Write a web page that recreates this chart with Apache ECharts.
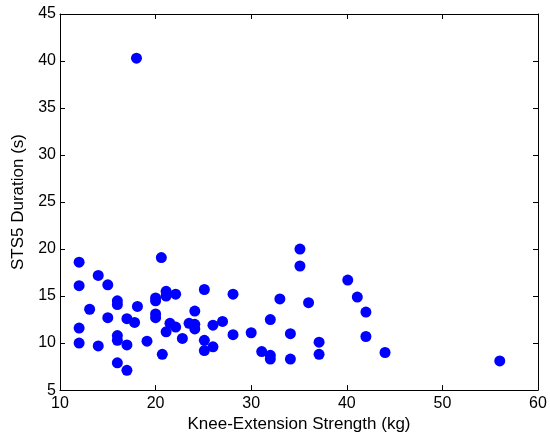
<!DOCTYPE html>
<html><head><meta charset="utf-8">
<script src="https://cdn.jsdelivr.net/npm/echarts@6/dist/echarts.min.js"></script>
<style>html,body{margin:0;padding:0;background:#fff}#c{width:550px;height:438px}</style>
</head><body><div id="c"></div>
<script>
const strengthKg = [18,12,12,12,12,13.1,14,14,15,15,16,16,16,16,16,17,17,17,17.8,18.1,19.1,20,20,20,20,20.6,20.7,21.1,21.1,21.1,21.5,22.1,22.1,22.8,23.5,24.1,24.1,24.1,25.1,25.1,25.1,26,26,27,28.1,28.1,30,31.1,32,32,32,33,34.1,34.1,35.1,35.1,36,37.1,37.1,40.1,41.1,42,42,44,56];
const sts5Seconds = [40.3,18.6,16.1,11.6,10,13.6,17.2,9.7,16.2,12.7,14.5,14.1,10.8,10.3,7.9,12.6,9.8,7.1,12.2,13.9,10.2,14.8,14.5,13.1,12.7,19.1,8.8,15.5,15,11.2,12.1,15.2,11.7,10.5,12.1,13.4,12,11.5,15.7,10.3,9.2,11.9,9.6,12.3,15.2,10.9,11.1,9.1,12.5,8.7,8.3,14.7,11,8.3,20,18.2,14.3,10.1,8.8,16.7,14.9,13.3,10.7,9,8.1];
const xTicks = [10,20,30,40,50,60];
const yTicks = [5,10,15,20,25,30,35,40,45];

const points = strengthKg.map((x,i)=>[x, sts5Seconds[i]]);
const font = 'Liberation Sans, Arial, Helvetica, sans-serif';
const lineStyle = {color:'#000', width:1};
const chart = echarts.init(document.getElementById('c'), null, {renderer:'canvas'});
chart.setOption({
  animation:false,
  backgroundColor:'#fff',
  grid:{left:60, right:12, top:14, bottom:46.5, containLabel:false},
  xAxis:[{
    type:'value', min:xTicks[0], max:xTicks[xTicks.length-1], interval:10,
    name:'Knee-Extension Strength (kg)', nameLocation:'middle', nameGap:25,
    nameTextStyle:{color:'#000', fontFamily:font, fontSize:17},
    axisLine:{show:true, onZero:false, lineStyle}, axisTick:{show:true, inside:true, length:5, lineStyle},
    axisLabel:{color:'#000', fontFamily:font, fontSize:16, margin:5},
    splitLine:{show:false}
  },{
    type:'value', position:'top', min:xTicks[0], max:xTicks[xTicks.length-1], interval:10,
    axisLine:{show:true, onZero:false, lineStyle}, axisTick:{show:true, inside:true, length:5, lineStyle},
    axisLabel:{show:false}, splitLine:{show:false}
  }],
  yAxis:[{
    type:'value', min:yTicks[0], max:yTicks[yTicks.length-1], interval:5,
    name:'STS5 Duration (s)', nameLocation:'middle', nameGap:31, nameRotate:90,
    nameTextStyle:{color:'#000', fontFamily:font, fontSize:17},
    axisLine:{show:true, onZero:false, lineStyle}, axisTick:{show:true, inside:true, length:5, lineStyle},
    axisLabel:{color:'#000', fontFamily:font, fontSize:16, margin:4},
    splitLine:{show:false}
  },{
    type:'value', position:'right', min:yTicks[0], max:yTicks[yTicks.length-1], interval:5,
    axisLine:{show:true, onZero:false, lineStyle}, axisTick:{show:true, inside:true, length:5, lineStyle},
    axisLabel:{show:false}, splitLine:{show:false}
  }],
  series:[{
    type:'scatter', data:points, symbol:'circle', symbolSize:11,
    itemStyle:{color:'#0000ff', opacity:1}
  }]
});
</script></body></html>
